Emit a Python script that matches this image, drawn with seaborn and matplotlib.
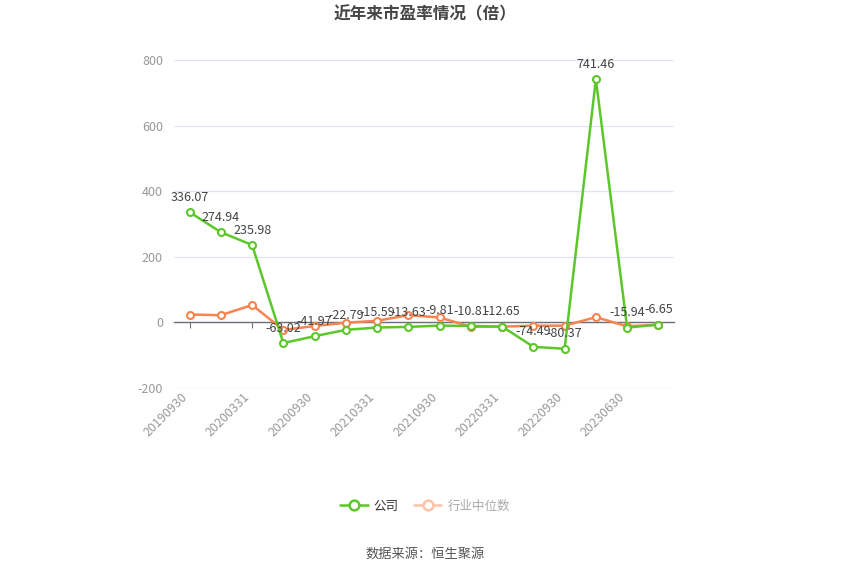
import numpy as np
import pandas as pd
import matplotlib
matplotlib.use("Agg")
import matplotlib.pyplot as plt
from matplotlib.lines import Line2D
import seaborn as sns

# data
dates = ["20190930", "20191231", "20200331", "20200630", "20200930", "20201231",
         "20210331", "20210630", "20210930", "20211231", "20220331", "20220630",
         "20220930", "20221231", "20230630", "20230930"]
company_pe = [336.07, 274.94, 235.98, -63.02, -41.97, -22.79, -15.59, -13.63,
              -9.81, -10.81, -12.65, -74.49, -80.37, 741.46, -15.94, -6.65]
industry_pe = [24, 22, 53, -23, -11, -1, 5, 22, 15, -13, -13, -10, -10, 16, -12, -7]

green = "#5cc72a"
orange = "#f7844f"

sns.set_theme(style="white")
plt.rcParams["font.family"] = ["Noto Sans CJK SC", "DejaVu Sans"]
plt.rcParams["axes.unicode_minus"] = False

df = pd.DataFrame({"idx": np.arange(len(dates)), "date": dates,
                   "company": company_pe, "industry": industry_pe})

fig = plt.figure(figsize=(8.5, 5.75), dpi=100)
ax = fig.add_axes([174 / 850, 1 - 388 / 575, 500 / 850, 328 / 575])

sns.lineplot(data=df, x="idx", y="industry", ax=ax, color=orange, linewidth=1.8,
             marker="o", markersize=5, markerfacecolor="white",
             markeredgecolor=orange, markeredgewidth=1.5, zorder=3)
sns.lineplot(data=df, x="idx", y="company", ax=ax, color=green, linewidth=1.8,
             marker="o", markersize=5, markerfacecolor="white",
             markeredgecolor=green, markeredgewidth=1.5, zorder=4)

# value labels for the company series
for i, v in zip(df["idx"], df["company"]):
    ax.annotate(f"{v:.2f}", (i, v), xytext=(0, 6), textcoords="offset points",
                ha="center", va="bottom", fontsize=9, color="#444444", zorder=5)

ax.set_xlim(-0.5, len(dates) - 0.5)
ax.set_ylim(-200, 800)
ax.set_yticks([-200, 0, 200, 400, 600, 800])
ax.yaxis.grid(True, color="#e0e6f1", linewidth=0.9)
ax.xaxis.grid(False)
for s in ["top", "right", "left"]:
    ax.spines[s].set_visible(False)
ax.spines["bottom"].set_position(("data", 0))
ax.spines["bottom"].set_color("#6e7079")
ax.spines["bottom"].set_linewidth(1.0)
ax.set_axisbelow(True)

ax.set_xticks(df["idx"][::2])
ax.set_xticklabels(df["date"][::2], rotation=45, ha="right",
                   color="#999999", fontsize=9)
ax.tick_params(axis="x", length=4, width=0.8, color="#6e7079", pad=45, direction="out",
               bottom=True)
ax.tick_params(axis="y", length=0, labelcolor="#999999", labelsize=9, pad=8)
ax.set_xlabel("")
ax.set_ylabel("")

fig.text(0.5, 1 - 14 / 575, "近年来市盈率情况（倍）", ha="center", va="center",
         fontsize=12, fontweight="bold", color="#464646")

handles = [
    Line2D([], [], color=green, linewidth=1.8, marker="o", markersize=7,
           markerfacecolor="white", markeredgewidth=1.8),
    Line2D([], [], color="#fbc2a7", linewidth=1.8, marker="o", markersize=7,
           markerfacecolor="white", markeredgewidth=1.8),
]
leg = fig.legend(handles, ["公司", "行业中位数"], loc="center",
                 bbox_to_anchor=(0.5, 1 - 506 / 575), ncol=2, frameon=False,
                 fontsize=9, handlelength=2.2, columnspacing=1.2, handletextpad=0.5)
leg.get_texts()[0].set_color("#333333")
leg.get_texts()[1].set_color("#aaaaaa")

fig.text(0.5, 1 - 554 / 575, "数据来源：恒生聚源", ha="center", va="center",
         fontsize=9.5, color="#555555")

fig.savefig("out.png", dpi=100)
